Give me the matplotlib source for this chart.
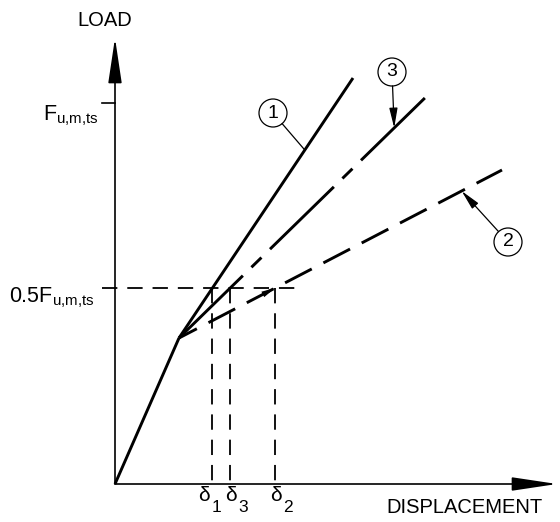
import numpy as np
import matplotlib
matplotlib.use('Agg')
import matplotlib.pyplot as plt
from matplotlib.patches import Circle

plt.rcParams['font.family'] = ['Liberation Sans', 'DejaVu Sans']
plt.rcParams['mathtext.fontset'] = 'custom'
plt.rcParams['mathtext.rm'] = 'Liberation Sans'
plt.rcParams['mathtext.it'] = 'Liberation Sans:italic'

#############################################################
# data (displacement, load) in drawing units
origin = (0, 0)
kink_disp, kink_load = 64, 146
line_names = ['1', '2', '3']
end_disp = [238, 387, 316]
end_load = [406, 314, 392]
F_u = 381
half_F = 196
delta_subs = ['1', '2', '3']

# where the circled numbers sit and where their leaders touch the lines
circle_disp = [158, 393, 277]
circle_load = [371, 242, 412]
leader_t = [0.723, 0.875, 0.854]
leader_arrow = [False, True, True]

#############################################################
LW = 2.1
styles = {
    '1': dict(ls='-'),
    '2': dict(ls=(3.4, (10.3, 4.5))),
    '3': dict(ls=(0, (30.6, 4.1, 4.8, 4.1))),
}

fig = plt.figure(figsize=(5.6, 5.22), dpi=100)
ax = fig.add_axes([0, 0, 1, 1])
ax.set_xlim(-115, 445)
ax.set_ylim(-38, 484)
ax.axis('off')

# axes with arrows
arr = dict(arrowstyle='-|>,head_length=2.8,head_width=0.42', mutation_scale=10,
           lw=1.2, color='k', fc='k', shrinkA=0, shrinkB=0)
ax.annotate('', xy=(0, 446), xytext=origin, arrowprops=arr)
ax.annotate('', xy=(442, 0), xytext=origin, arrowprops=arr)
ax.text(-10, 458, 'LOAD', fontsize=14.5, ha='center', va='baseline')
ax.text(350, -29, 'DISPLACEMENT', fontsize=14.5, ha='center', va='baseline')

# F tick + labels
ax.plot([-13, 0], [F_u, F_u], color='k', lw=1.2)
ax.text(-16, 364, r'$\mathregular{F_{u{,}m{,}ts}}$', fontsize=15.5,
        ha='right', va='baseline')
ax.text(-20, 182, r'$\mathregular{0.5F_{u{,}m{,}ts}}$', fontsize=15.5,
        ha='right', va='baseline')

# initial branch
ax.plot([origin[0], kink_disp], [origin[1], kink_load], color='k', lw=LW,
        solid_capstyle='butt')

# three lines after kink
deltas = []
for name, ex, ey in zip(line_names, end_disp, end_load):
    ax.plot([kink_disp, ex], [kink_load, ey], color='k', lw=LW,
            dash_capstyle='butt', solid_capstyle='butt', **styles[name])
    d = kink_disp + (half_F - kink_load) * (ex - kink_disp) / (ey - kink_load)
    deltas.append(d)

# guide lines at 0.5F
dash = (0, (8.5, 5.5))
ax.plot([-13, 187], [half_F, half_F], color='k', lw=1.3, ls=dash)
shift = {'1': -14.5, '2': -5.5, '3': -5.5}
for name, d, sub in zip(line_names, deltas, delta_subs):
    ax.plot([d, d], [half_F, 0], color='k', lw=1.3, ls=dash)
    ax.text(d + shift[name], -17, 'δ', fontsize=15, ha='left', va='baseline')
    ax.text(d + shift[name] + 13.5, -28, sub, fontsize=12.5, ha='left', va='baseline')

# small arrowhead on line 2 at 0.5F
i2 = line_names.index('2')
slope2 = (end_load[i2] - kink_load) / (end_disp[i2] - kink_disp)
ax.annotate('', xy=(deltas[i2], half_F), xytext=(deltas[i2] - 14, half_F - 14 * slope2),
            arrowprops=dict(arrowstyle='-|>,head_length=1.0,head_width=0.22',
                            mutation_scale=10, lw=0, color='k', fc='k',
                            shrinkA=0, shrinkB=0))

# circled numbers with leaders
R = 14
for name, cx, cy, t, has_arrow, ex, ey in zip(line_names, circle_disp, circle_load,
                                               leader_t, leader_arrow, end_disp, end_load):
    ax.add_patch(Circle((cx, cy), R, fill=False, ec='k', lw=0.9))
    ax.text(cx, cy, name, fontsize=14, ha='center', va='center')
    tx = kink_disp + t * (ex - kink_disp)
    ty = kink_load + t * (ey - kink_load)
    v = np.array([tx - cx, ty - cy])
    v = v / np.hypot(*v)
    sx, sy = cx + R * v[0], cy + R * v[1]
    if has_arrow:
        ax.annotate('', xy=(tx, ty), xytext=(sx, sy),
                    arrowprops=dict(arrowstyle='-|>,head_length=1.2,head_width=0.25',
                                    mutation_scale=10, lw=0.9, color='k', fc='k',
                                    shrinkA=0, shrinkB=0))
    else:
        ax.plot([sx, tx], [sy, ty], color='k', lw=0.9)

plt.savefig('out.png', dpi=100)
